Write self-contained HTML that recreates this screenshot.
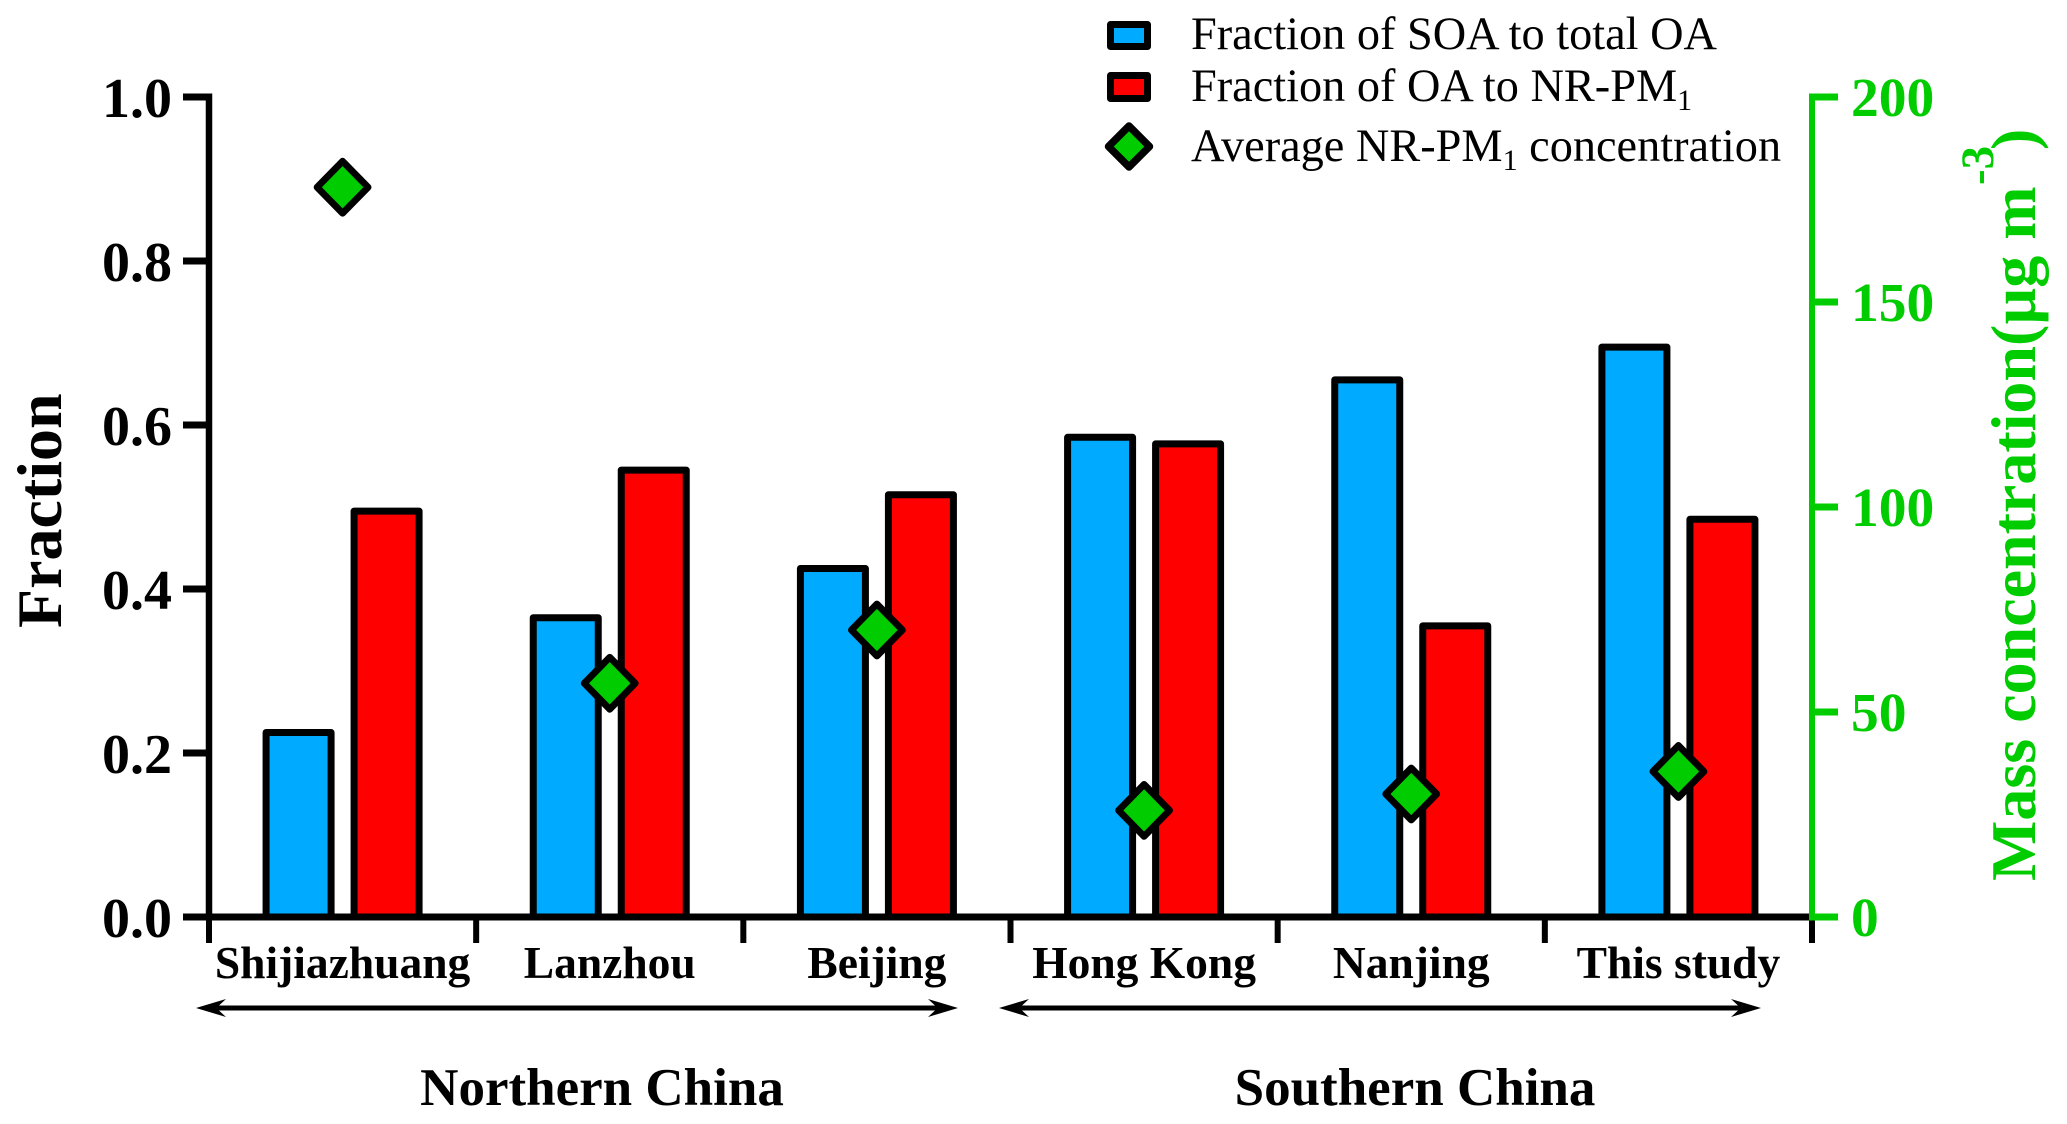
<!DOCTYPE html>
<html lang="en">
<head>
<meta charset="utf-8">
<title>SOA and OA fractions by city</title>
<style>
  html, body { margin: 0; padding: 0; background: #fff; }
  svg { display: block; font-family: "Liberation Serif", serif; }
  text { fill: #000; }
  .bold { font-weight: bold; }
  .green { fill: #00cc00; }
</style>
</head>
<body>
<svg id="chart" width="2067" height="1124" viewBox="0 0 2067 1124" xmlns="http://www.w3.org/2000/svg">
  <rect x="0" y="0" width="2067" height="1124" fill="#fff"/>
  <g id="bars"></g>
  <g id="axes"></g>
  <g id="points"></g>

  <text class="bold" font-size="64" transform="translate(61 628) rotate(-90)">Fraction</text>
  <g>
    <text class="bold green" font-size="64" transform="translate(2035 881) rotate(-90)">Mass concentration(µg m</text>
    <text class="bold green" font-size="47" transform="translate(1993 185) rotate(-90)">-3</text>
    <text class="bold green" font-size="64" transform="translate(2035 150) rotate(-90)">)</text>
  </g>

  <g>
    <path d="M196 1008 L226 999 L219 1005.5 L935 1005.5 L928 999 L958 1008 L928 1017 L935 1010.5 L219 1010.5 L226 1017 Z" fill="#000"/>
    <text class="bold" font-size="53" x="602" y="1105" text-anchor="middle">Northern China</text>
  </g>
  <g>
    <path d="M999 1008 L1029 999 L1022 1005.5 L1738 1005.5 L1731 999 L1761 1008 L1731 1017 L1738 1010.5 L1022 1010.5 L1029 1017 Z" fill="#000"/>
    <text class="bold" font-size="53" x="1415" y="1105" text-anchor="middle">Southern China</text>
  </g>

  <g>
    <g>
      <rect x="1110.5" y="24.5" width="37" height="22" fill="#00aaff" stroke="#000" stroke-width="7" stroke-linejoin="round"/>
      <text font-size="46.3" x="1191" y="49">Fraction of SOA to total OA</text>
    </g>
    <g>
      <rect x="1110.5" y="75.5" width="37" height="23" fill="#ff0000" stroke="#000" stroke-width="7" stroke-linejoin="round"/>
      <text font-size="46.3" x="1191" y="101">Fraction of OA to NR-PM<tspan font-size="30" dy="9">1</tspan></text>
    </g>
    <g>
      <path d="M1129 126 L1149.5 146.5 L1129 167 L1108.5 146.5 Z" fill="#00cc00" stroke="#000" stroke-width="7.5" stroke-linejoin="round"/>
      <text font-size="46.3" x="1191" y="161">Average NR-PM<tspan font-size="30" dy="9">1</tspan><tspan dy="-9"> concentration</tspan></text>
    </g>
  </g>

<script>
// Chart data
const categories = ["Shijiazhuang", "Lanzhou", "Beijing", "Hong Kong", "Nanjing", "This study"];
const soaFraction = [0.225, 0.365, 0.425, 0.585, 0.655, 0.695];
const oaFraction = [0.495, 0.545, 0.515, 0.577, 0.355, 0.485];
const concentration = [178, 57, 70, 26, 30, 35.5];
const leftTicks = [0, 0.2, 0.4, 0.6, 0.8, 1];
const rightTicks = [0, 50, 100, 150, 200];

// Axis functions
const plotLeft = 209, plotRight = 1812, plotBottom = 917, plotTop = 97;
const yLeft = v => plotBottom - (v / 1) * (plotBottom - plotTop);
const yRight = v => plotBottom - (v / 200) * (plotBottom - plotTop);
const step = (plotRight - plotLeft) / categories.length;
const xEdge = i => plotLeft + step * i;
const xCenter = i => plotLeft + step * (i + 0.5);

const NS = "http://www.w3.org/2000/svg";
function mk(parent, tag, attrs, txt) {
  const el = document.createElementNS(NS, tag);
  for (const k in attrs) el.setAttribute(k, attrs[k]);
  if (txt !== undefined) el.textContent = txt;
  parent.appendChild(el);
  return el;
}
const barsG = document.getElementById("bars");
const axesG = document.getElementById("axes");
const pointsG = document.getElementById("points");

// Bars
const barW = 65, barOffset = 44, barStroke = 7;
function drawBar(value, i, sign, fill, name) {
  const top = yLeft(value);
  const bar = mk(barsG, "rect", { x: xCenter(i) + sign * barOffset - barW / 2, y: top, width: barW, height: plotBottom - top, fill: fill, stroke: "#000", "stroke-width": barStroke, "stroke-linejoin": "round" });
  
  
}
soaFraction.forEach((v, i) => drawBar(v, i, -1, "#00aaff", "bar-soa"));
oaFraction.forEach((v, i) => drawBar(v, i, 1, "#ff0000", "bar-oa"));

// Left axis
const axisL = mk(axesG, "line", { x1: plotLeft, x2: plotLeft, y1: plotTop - 3.5, y2: plotBottom + 3.5, stroke: "#000", "stroke-width": 6.5 });


leftTicks.forEach(v => {
  const tick = mk(axesG, "line", { x1: 183, x2: plotLeft, y1: yLeft(v), y2: yLeft(v), stroke: "#000", "stroke-width": 7 });
  
  
  const label = mk(axesG, "text", { x: 172, y: yLeft(v) + 20, "text-anchor": "end", "font-size": 56, "font-weight": "bold" }, v.toFixed(1));
  
  
});

// X axis
const axisX = mk(axesG, "line", { x1: 184, x2: plotRight, y1: plotBottom, y2: plotBottom, stroke: "#000", "stroke-width": 7 });


for (let i = 0; i <= categories.length; i++) {
  const tick = mk(axesG, "line", { x1: xEdge(i), x2: xEdge(i), y1: plotBottom, y2: 943, stroke: "#000", "stroke-width": 6 });
  
  
}
categories.forEach((c, i) => {
  const label = mk(axesG, "text", { x: xCenter(i), y: 978, "text-anchor": "middle", "font-size": 45.5, "font-weight": "bold" }, c);
  
  
});

// Right axis
const axisR = mk(axesG, "line", { x1: plotRight, x2: plotRight, y1: plotTop - 3.5, y2: plotBottom + 3.5, stroke: "#00cc00", "stroke-width": 6 });


rightTicks.forEach(v => {
  const tick = mk(axesG, "line", { x1: plotRight, x2: 1838, y1: yRight(v), y2: yRight(v), stroke: "#00cc00", "stroke-width": 7 });
  
  
  const label = mk(axesG, "text", { x: 1851, y: yRight(v) + 19, "font-size": 55.5, "font-weight": "bold", class: "green" }, String(v));
  
  
});

// Diamonds
const dHalfW = 25.5, dHalfH = 26;
concentration.forEach((v, i) => {
  const cx = xCenter(i), cy = yRight(v);
  const d = "M" + cx + " " + (cy - dHalfH) + " L" + (cx + dHalfW) + " " + cy + " L" + cx + " " + (cy + dHalfH) + " L" + (cx - dHalfW) + " " + cy + " Z";
  const pt = mk(pointsG, "path", { d: d, fill: "#00cc00", stroke: "#000", "stroke-width": 6.8, "stroke-linejoin": "round" });
  
  
});
</script>
</svg>
</body>
</html>
